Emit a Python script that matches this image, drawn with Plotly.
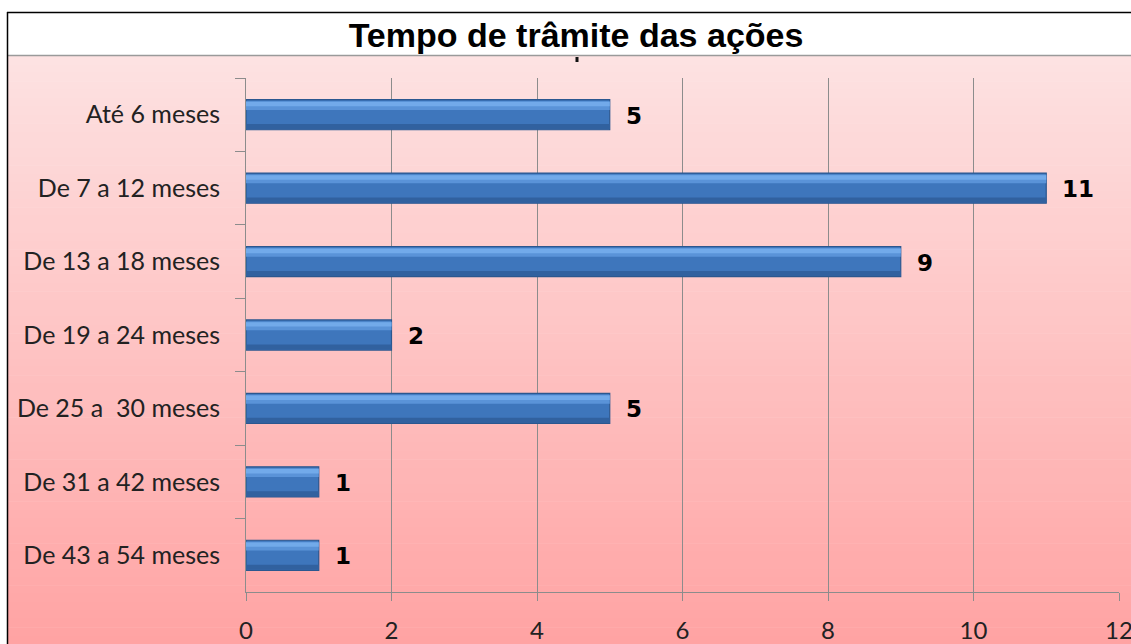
import plotly.graph_objects as go

categories = ["Até 6 meses", "De 7 a 12 meses", "De 13 a 18 meses", "De 19 a 24 meses",
              "De 25 a  30 meses", "De 31 a 42 meses", "De 43 a 54 meses"]
values = [5, 11, 9, 2, 5, 1, 1]
x_ticks = [0, 2, 4, 6, 8, 10, 12]
title_text = "Tempo de trâmite das ações"

W, H = 1131, 644
L, R, T, B = 246, 12, 78, 52
pw, ph = W - L - R, H - T - B

def px(x):
    return (x - L) / pw

def py(y):
    return (H - B - y) / ph

fig = go.Figure()
# bar body
fig.add_trace(go.Bar(
    y=categories, x=values, orientation="h", width=0.41,
    marker=dict(color="#3e76bc", line=dict(color="#2b578f", width=1.2)),
    hoverinfo="skip", showlegend=False,
))
# top highlight (two tones for a softer gradient)
fig.add_trace(go.Bar(
    y=categories, x=values, orientation="h", width=0.12, offset=-0.185,
    marker=dict(color="#5a93d8", line=dict(width=0)),
    hoverinfo="skip", showlegend=False,
))
fig.add_trace(go.Bar(
    y=categories, x=values, orientation="h", width=0.06, offset=-0.175,
    marker=dict(color="#72aaea", line=dict(width=0)),
    hoverinfo="skip", showlegend=False,
))
# bottom shade
fig.add_trace(go.Bar(
    y=categories, x=values, orientation="h", width=0.07, offset=0.128,
    marker=dict(color="#31619f", line=dict(width=0)),
    hoverinfo="skip", showlegend=False,
))

annotations = []
for c, v in zip(categories, values):
    annotations.append(dict(x=v, y=c, text=str(v), showarrow=False, xanchor="left",
                            xshift=14, yshift=-1,
                            font=dict(family="DejaVu Sans", size=23, color="black", weight="bold")))

shapes = []
# gradient background
top_y, bot_y = 56, 644
n = 70
c0 = (253, 226, 226)
c1 = (255, 163, 163)
for i in range(n):
    y0 = top_y + (bot_y - top_y) * i / n
    y1 = top_y + (bot_y - top_y) * (i + 1) / n + 0.6
    t = (i + 0.5) / n
    col = tuple(round(c0[k] + (c1[k] - c0[k]) * t) for k in range(3))
    shapes.append(dict(type="rect", xref="paper", yref="paper", layer="below",
                       x0=px(7), x1=px(W + 5), y0=py(y0), y1=py(y1),
                       fillcolor="rgb(%d,%d,%d)" % col, line=dict(width=0)))
# title box
shapes.append(dict(type="rect", xref="paper", yref="paper", layer="below",
                   x0=px(7), x1=px(W + 5), y0=py(56), y1=py(12),
                   fillcolor="white", line=dict(width=0)))
shapes.append(dict(type="line", xref="paper", yref="paper", layer="above",
                   x0=px(7), x1=px(W + 5), y0=py(55.5), y1=py(55.5),
                   line=dict(color="#9a9a9a", width=1.5)))
shapes.append(dict(type="line", xref="paper", yref="paper", layer="above",
                   x0=px(7), x1=px(W + 5), y0=py(12.5), y1=py(12.5),
                   line=dict(color="black", width=1.5)))
shapes.append(dict(type="line", xref="paper", yref="paper", layer="above",
                   x0=px(7.5), x1=px(7.5), y0=py(12), y1=py(H + 5),
                   line=dict(color="black", width=1.5)))
shapes.append(dict(type="rect", xref="paper", yref="paper", layer="above",
                   x0=px(575.5), x1=px(578.5), y0=py(62), y1=py(57),
                   fillcolor="#111111", line=dict(width=0)))

fig.update_layout(
    width=W, height=H,
    margin=dict(l=L, r=R, t=T, b=B, autoexpand=False),
    paper_bgcolor="white", plot_bgcolor="rgba(0,0,0,0)",
    barmode="overlay",
    shapes=shapes,
    annotations=annotations,
    title=dict(text=title_text, x=576 / W, xref="container", xanchor="center",
               y=1 - 35 / H, yref="container", yanchor="middle",
               font=dict(family="Liberation Sans", size=34, color="black", weight="bold")),
    xaxis=dict(range=[0, 12], tickvals=x_ticks, showgrid=True, gridcolor="#8c8c8c", gridwidth=1,
               showline=True, linecolor="#8c8c8c", linewidth=1, ticks="outside", ticklen=8,
               tickcolor="#8c8c8c", zeroline=False, ticklabelstandoff=9, automargin=False,
               ticklabeloverflow="allow",
               tickfont=dict(family="Lato", size=24, color="#222222")),
    yaxis=dict(categoryorder="array", categoryarray=categories, autorange="reversed",
               showline=True, linecolor="#8c8c8c", linewidth=1, ticks="outside", ticklen=10,
               tickcolor="#8c8c8c", tickson="boundaries", showgrid=False, ticklabelstandoff=20,
               automargin=False, ticklabeloverflow="allow",
               tickfont=dict(family="Lato", size=25, color="#222222")),
)

fig.write_html("out.html", config={"displayModeBar": False},
               post_script="document.body.style.margin='0';")
